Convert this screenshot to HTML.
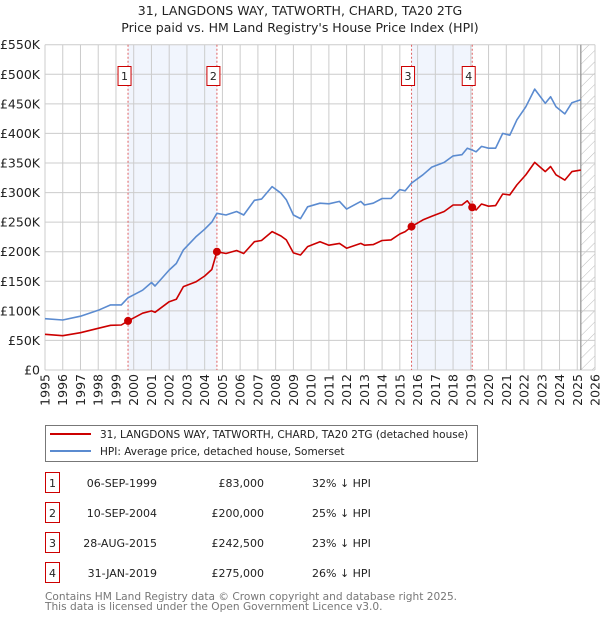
<!DOCTYPE html>
<html><head><meta charset="utf-8"><style>
body{margin:0;background:#fff;font-family:"DejaVu Sans","Liberation Sans",sans-serif;}
svg text{font-family:"DejaVu Sans","Liberation Sans",sans-serif;}
</style></head><body>
<svg id="chart" width="600" height="620" xmlns="http://www.w3.org/2000/svg">
<defs><pattern id="hatch" patternUnits="userSpaceOnUse" width="8" height="8" patternTransform="rotate(45)"><line x1="0" y1="0" x2="0" y2="8" stroke="#bbb" stroke-width="1"/></pattern></defs>
<text x="300" y="15" text-anchor="middle" font-size="12.5" fill="#222">31, LANGDONS WAY, TATWORTH, CHARD, TA20 2TG</text>
<text x="300" y="32" text-anchor="middle" font-size="12.5" fill="#222">Price paid vs. HM Land Registry's House Price Index (HPI)</text>
<g id="plot"></g>
<rect x="45.5" y="425.5" width="432" height="36" fill="#fff" stroke="#777"/>
<line x1="50" y1="434" x2="91" y2="434" stroke="#cc0000" stroke-width="2"/>
<text x="100" y="438" font-size="10.5" fill="#222">31, LANGDONS WAY, TATWORTH, CHARD, TA20 2TG (detached house)</text>
<line x1="50" y1="451" x2="91" y2="451" stroke="#5b8bd0" stroke-width="2"/>
<text x="100" y="455" font-size="10.5" fill="#222">HPI: Average price, detached house, Somerset</text>
<g id="table" font-size="11" fill="#222"></g>
<text x="45" y="600" font-size="10.6" fill="#777">Contains HM Land Registry data © Crown copyright and database right 2025.</text>
<text x="45" y="610" font-size="10.6" fill="#777">This data is licensed under the Open Government Licence v3.0.</text>
</svg>
<script>
const years=[1995,1996,1997,1998,1998.7,1999.3,1999.68,2000.5,2001,2001.2,2002,2002.4,2002.8,2003.5,2004,2004.4,2004.69,2005.2,2005.8,2006.2,2006.8,2007.2,2007.8,2008.3,2008.6,2009,2009.4,2009.8,2010.5,2011,2011.6,2012,2012.8,2013,2013.5,2014,2014.5,2015,2015.3,2015.66,2016.3,2016.8,2017.5,2018,2018.5,2018.8,2019.08,2019.3,2019.6,2020,2020.4,2020.8,2021.2,2021.6,2022.1,2022.6,2023.2,2023.5,2023.8,2024.3,2024.7,2025.2];
const hpiValues=[86.8,84.5,91,101,110,110,122,135,148,142,169,180,203,225,238,250,265,262,268,262,287,289,310,299,288,262,256,276,282,281,285,272,285,279,282,290,290,305,303,316,330,343,351,362,364,375,372,369,378,375,375,400,397,423,445,475,451,462,445,433,452,457];
const propValues=[60.3,58,63,70.5,75.5,76,83,96,100,97.5,115.5,119.5,141,149,159,170,200,197,202,197,217,219,234,226.6,220,198,194.5,208.6,217,211,214,206,214,211,212,219,220,230,234,242.5,253.7,260,268,279,279,286,275,270.6,280.7,277,278,297.6,296,313,329.8,351,335.4,344,330,321,335.4,338];
const saleLabels=["1","2","3","4"];
const saleYears=[1999.68,2004.69,2015.66,2019.08];
const salePrices=[83,200,242.5,275];
const saleDates=["06-SEP-1999","10-SEP-2004","28-AUG-2015","31-JAN-2019"];
const salePriceText=["£83,000","£200,000","£242,500","£275,000"];
const saleDiff=["32% ↓ HPI","25% ↓ HPI","23% ↓ HPI","26% ↓ HPI"];
const yTicks=[0,50,100,150,200,250,300,350,400,450,500,550];
const yTickLabels=["£0","£50K","£100K","£150K","£200K","£250K","£300K","£350K","£400K","£450K","£500K","£550K"];
const xTicks=[1995,1996,1997,1998,1999,2000,2001,2002,2003,2004,2005,2006,2007,2008,2009,2010,2011,2012,2013,2014,2015,2016,2017,2018,2019,2020,2021,2022,2023,2024,2025,2026];
const dataEnd=2025.2;

const X0=45,X1=595,Y0=370,Y1=44.7;
const xs=y=>X0+(y-1995)/(2026-1995)*(X1-X0);
const ys=v=>Y0-v/550*(Y0-Y1);
const NS="http://www.w3.org/2000/svg";
const plot=document.getElementById('plot');
function mk(tag,attrs,parent){const e=document.createElementNS(NS,tag);for(const k in attrs)e.setAttribute(k,attrs[k]);(parent||plot).appendChild(e);return e;}

for(let i=0;i<saleYears.length;i+=2){
  const r=mk('rect',{x:xs(saleYears[i]),y:Y1,width:xs(saleYears[i+1])-xs(saleYears[i]),height:Y0-Y1,fill:'#eef3fc',opacity:0.8});
  
  
}
const h=mk('rect',{x:xs(dataEnd),y:Y1,width:X1-xs(dataEnd),height:Y0-Y1,fill:'url(#hatch)'});


yTicks.forEach((t,i)=>{
  const l=mk('line',{x1:X0,x2:X1,y1:ys(t),y2:ys(t),stroke:'#cccccc','stroke-width':1});
  
  
  const tx=mk('text',{x:40,y:ys(t)+4.5,'text-anchor':'end','font-size':12.5,fill:'#222'});
  tx.textContent=yTickLabels[i];
  
  
});
xTicks.forEach(t=>{
  const l=mk('line',{x1:xs(t),x2:xs(t),y1:Y1,y2:Y0,stroke:'#cccccc','stroke-width':1});
  
  
  const tx=mk('text',{x:0,y:0,'text-anchor':'end','font-size':12.5,fill:'#222',transform:`translate(${xs(t)+4.5},374) rotate(-90)`});
  tx.textContent=t;
  
  
});
const end=mk('line',{x1:xs(dataEnd),x2:xs(dataEnd),y1:Y1,y2:Y0,stroke:'#999','stroke-width':1.3});


saleYears.forEach((y,i)=>{
  const l=mk('line',{x1:xs(y),x2:xs(y),y1:Y1,y2:Y0,stroke:'#e06060','stroke-width':1,'stroke-dasharray':'2,2'});
  
  
  const b=mk('rect',{x:xs(y)-10,y:66.5,width:13,height:19,fill:'#fff',stroke:'#cc0000'});
  
  
  const t=mk('text',{x:xs(y)-3.5,y:80,'text-anchor':'middle','font-size':11,fill:'#222'});
  t.textContent=saleLabels[i];
  
  
});
const pts=arr=>arr.map((v,i)=>xs(years[i]).toFixed(1)+','+ys(v).toFixed(1)).join(' ');
const hl=mk('polyline',{points:pts(hpiValues),fill:'none',stroke:'#5b8bd0','stroke-width':1.6,'stroke-linejoin':'round'});


const pl=mk('polyline',{points:pts(propValues),fill:'none',stroke:'#cc0000','stroke-width':1.6,'stroke-linejoin':'round'});


saleYears.forEach((y,i)=>{
  const c=mk('circle',{cx:xs(y),cy:ys(salePrices[i]),r:4,fill:'#cc0000'});
  
  
});
const tb=document.getElementById('table');
saleLabels.forEach((s,i)=>{
  const yy=483+i*30;
  const b=mk('rect',{x:45.5,y:yy-10.5,width:14,height:20,fill:'#fff',stroke:'#cc0000'},tb);
  
  
  const vals=[[52.5,s,'middle'],[157,saleDates[i],'end'],[264,salePriceText[i],'end'],[312,saleDiff[i],'start']];
  vals.forEach(v=>{
    const t=mk('text',{x:v[0],y:yy+4,'text-anchor':v[2],'font-size':11,fill:'#222'},tb);
    t.textContent=v[1];
    
    
  });
});
</script>
</body></html>
